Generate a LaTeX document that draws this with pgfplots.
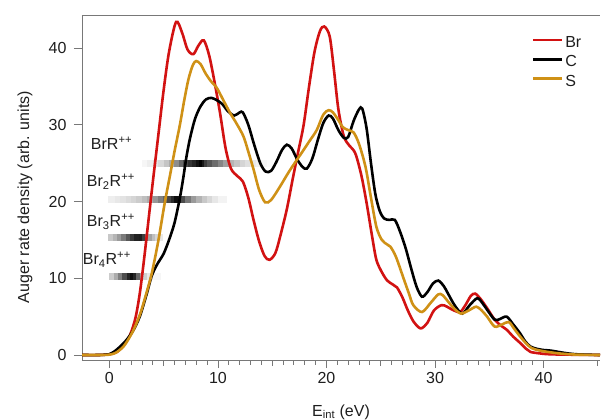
\documentclass[border=0pt]{standalone}
\usepackage{fontspec}
\setmainfont{Liberation Sans}
\usepackage{pgfplots}
\pgfplotsset{compat=1.18}
\definecolor{cBr}{RGB}{210,18,18}
\definecolor{cC}{RGB}{0,0,0}
\definecolor{cS}{RGB}{207,145,22}
\definecolor{axgray}{RGB}{120,120,120}
\definecolor{txt}{RGB}{30,30,30}
\newcommand{\fs}{\fontsize{16}{19}\selectfont}
\begin{document}
\begin{tikzpicture}
\begin{axis}[
  at={(0,0)}, anchor=south west,
  scale only axis, width=518pt, height=345pt,
  xmin=-2.52, xmax=45.2, ymin=-0.65, ymax=44.3,
  axis x line=box, axis y line=left,
  axis line style={-, draw=axgray, line width=0.8pt},
  xtick pos=left, ytick pos=left,
  tick align=outside,
  xtick={0,10,20,30,40}, ytick={0,10,20,30,40},
  minor x tick num=9,
  extra x ticks={5,15,25,35,45}, extra x tick labels={},
  extra x tick style={major tick length=6pt},
  major tick length=8pt, minor tick length=4.5pt,
  every tick/.style={draw=axgray, line width=0.8pt},
  tick label style={font=\fs, text=txt},
  yticklabel style={xshift=-4pt},
  xticklabel style={yshift=-1pt},
  /pgf/number format/assume math mode=true,
  xlabel={E\textsubscript{int} (eV)},
  ylabel={Auger rate density (arb. units)},
  label style={font=\fs, text=txt},
  ylabel style={at={(axis description cs:-0.11,0.472)}, anchor=center},
  colormap={gb}{color(0)=(white) color(1)=(black)},
  legend style={at={(0.862,0.950)}, anchor=north west, draw=none, fill=none,
    font=\fs, text=txt, row sep=2.6pt},
  legend cell align=left,
  legend image code/.code={\draw[#1, line width=2.6pt, line cap=butt] (0pt,0.5ex) -- (29pt,0.5ex);},
]
% gradient bars
\addplot[mesh, point meta=explicit, point meta min=0, point meta max=1, line width=7pt, line cap=butt, shader=flat, forget plot]
 table[x=x, y=y, meta=c] {
x y c
3.0 25.0 0.02
3.5 25.0 0.05
4.0 25.0 0.08
4.5 25.0 0.12
5.0 25.0 0.18
5.5 25.0 0.27
6.0 25.0 0.38
6.4 25.0 0.5
6.8 25.0 0.65
7.2 25.0 0.75
7.6 25.0 0.82
8.0 25.0 0.88
8.3 25.0 0.97
8.5 25.0 1.0
8.7 25.0 0.8
9.0 25.0 0.7
9.5 25.0 0.62
10.0 25.0 0.52
10.5 25.0 0.42
11.0 25.0 0.32
11.5 25.0 0.25
12.0 25.0 0.19
12.5 25.0 0.14
13.0 25.0 0.1
13.5 25.0 0.07
14.0 25.0 0.05
14.5 25.0 0.03
15.1 25.0 0.01
};
\addplot[mesh, point meta=explicit, point meta min=0, point meta max=1, line width=7pt, line cap=butt, shader=flat, forget plot]
 table[x=x, y=y, meta=c] {
x y c
-0.1 20.2 0.05
0.5 20.2 0.08
1.0 20.2 0.1
1.5 20.2 0.12
2.0 20.2 0.15
2.5 20.2 0.18
3.0 20.2 0.22
3.5 20.2 0.28
4.0 20.2 0.35
4.5 20.2 0.45
4.9 20.2 0.55
5.3 20.2 0.66
5.7 20.2 0.78
6.0 20.2 0.88
6.3 20.2 1.0
6.6 20.2 0.8
7.0 20.2 0.6
7.5 20.2 0.45
8.0 20.2 0.34
8.5 20.2 0.25
9.0 20.2 0.18
9.5 20.2 0.12
10.0 20.2 0.07
10.8 20.2 0.02
};
\addplot[mesh, point meta=explicit, point meta min=0, point meta max=1, line width=7pt, line cap=butt, shader=flat, forget plot]
 table[x=x, y=y, meta=c] {
x y c
-0.1 15.3 0.18
0.3 15.3 0.25
0.7 15.3 0.33
1.1 15.3 0.45
1.5 15.3 0.58
1.9 15.3 0.72
2.3 15.3 0.82
2.7 15.3 0.9
3.0 15.3 0.85
3.3 15.3 0.65
3.6 15.3 0.42
3.9 15.3 0.3
4.2 15.3 0.2
4.6 15.3 0.12
4.95 15.3 0.05
};
\addplot[mesh, point meta=explicit, point meta min=0, point meta max=1, line width=7pt, line cap=butt, shader=flat, forget plot]
 table[x=x, y=y, meta=c] {
x y c
0.0 10.2 0.15
0.4 10.2 0.25
0.8 10.2 0.4
1.2 10.2 0.6
1.6 10.2 0.78
1.9 10.2 0.92
2.2 10.2 0.95
2.5 10.2 0.75
2.8 10.2 0.45
3.1 10.2 0.25
3.5 10.2 0.12
4.0 10.2 0.06
4.8 10.2 0.01
};
% curves
\addplot[cBr, line width=2.6pt, smooth] table {
-2.5 0
-1 0
0 0.1
0.7 0.4
1.3 1.2
1.9 2.6
2.4 4.8
2.8 8
3.2 12.5
3.6 17.5
4.0 22.5
4.5 28.5
5.0 34.5
5.5 39.5
6.15 43.4
6.7 42.0
7.2 39.8
7.74 39.2
8.2 40.3
8.7 41.0
9.2 39.0
9.7 35.5
10.2 31.5
10.7 27.0
11.2 24.3
11.8 23.3
12.3 22.6
12.8 20.5
13.3 17.5
13.8 14.8
14.3 12.9
14.75 12.4
15.3 13.3
15.8 15.8
16.35 19.0
16.9 23.0
17.4 26.5
17.9 30.0
18.4 35.0
18.9 39.5
19.4 42.2
19.8 42.8
20.3 41.5
20.7 37.0
21.1 32.0
21.6 28.5
22.1 27.3
22.65 26.3
23.2 23.5
23.7 19.8
24.2 15.5
24.6 12.4
25.1 10.8
25.6 9.7
26.1 9.2
26.5 8.8
27.0 7.5
27.5 5.8
28.0 4.4
28.5 3.6
28.8 3.5
29.3 4.2
29.9 5.8
30.6 6.5
31.1 6.3
31.6 5.9
32.3 5.6
32.8 6.5
33.3 7.7
33.7 8.0
34.2 7.3
34.8 6.1
35.5 4.6
36.1 3.8
36.6 3.3
37.2 2.4
37.9 1.5
38.4 0.8
38.8 0.4
39.7 0.2
40.5 0.1
42 0.05
45.2 0
};
\addlegendentry{Br}
\addplot[cC, line width=2.6pt, smooth] table {
-2.5 0
-1 0
0 0.1
0.4 0.4
1.0 1.1
1.6 2.0
2.2 3.2
2.8 5.0
3.45 8.0
3.9 10.3
4.4 11.8
5.0 13.2
5.5 15.0
6.0 17.2
6.5 20.5
6.8 23.0
7.1 25.8
7.44 28.3
7.9 30.8
8.4 32.4
8.9 33.3
9.4 33.5
9.9 33.2
10.4 32.7
10.9 31.8
11.5 31.2
12.0 31.6
12.3 31.6
12.8 30.0
13.3 27.6
13.9 25.0
14.4 23.9
14.9 24.0
15.4 25.2
15.9 26.7
16.35 27.4
16.8 26.9
17.3 25.5
17.8 24.5
18.2 24.3
18.7 25.6
19.2 28.0
19.7 30.2
20.2 31.2
20.6 30.8
21.1 29.3
21.6 28.3
22.0 28.4
22.5 30.5
23.0 32.0
23.3 32.1
23.7 29.5
24.1 25.0
24.5 21.0
24.9 18.8
25.3 17.8
25.8 17.6
26.3 17.6
26.8 16.0
27.3 13.9
27.8 11.3
28.3 8.9
28.8 7.6
29.3 8.2
29.8 9.3
30.3 9.7
30.8 9.0
31.2 8.0
31.8 6.5
32.5 5.4
33.2 6.5
33.9 7.4
34.4 6.7
34.8 5.9
35.5 4.6
36.0 4.7
36.6 5.0
37.2 4.0
37.85 2.8
38.3 1.8
38.8 1.1
39.4 0.8
40.0 0.65
40.5 0.6
41.0 0.5
41.8 0.3
43 0.1
45.2 0
};
\addlegendentry{C}
\addplot[cS, line width=2.6pt, smooth] table {
-2.5 0
-1 0
0 0.05
0.6 0.3
1.3 1.1
1.9 2.4
2.4 3.8
2.9 5.6
3.4 8.0
3.9 10.6
4.5 14.8
5.1 19.8
5.6 23.5
6.0 26.5
6.5 30.0
6.9 33.2
7.3 36.0
7.7 37.8
8.0 38.3
8.4 37.9
8.9 36.6
9.4 35.6
9.9 34.8
10.5 33.2
11.1 31.6
11.7 30.2
12.35 28.5
12.8 26.5
13.3 24.1
13.8 21.5
14.35 19.9
14.9 20.2
15.7 21.9
16.6 24.0
17.6 26.1
18.4 27.8
19.1 29.3
19.7 31.3
20.2 31.9
20.6 31.6
21.1 30.6
21.5 29.7
22.0 29.3
22.5 29.0
23.0 27.5
23.6 24.5
24.1 20.5
24.6 16.7
25.1 15.0
25.6 14.4
25.9 14.1
26.4 12.8
27.1 10.0
27.6 8.0
28.0 6.5
28.8 5.6
29.6 6.8
30.3 7.9
30.7 7.8
31.3 6.8
31.8 6.0
32.4 5.4
33.1 5.8
33.8 6.3
34.3 5.8
34.8 5.0
35.5 3.7
36.2 4.0
36.8 4.3
37.3 3.4
37.85 2.4
38.4 1.5
38.9 0.9
39.6 0.6
40.4 0.4
41.5 0.2
43 0.05
45.2 0
};
\addlegendentry{S}
\node[anchor=west, font=\fs, text=txt, inner sep=0pt] at (axis cs:-1.71,27.6) {BrR\textsuperscript{++}};
\node[anchor=west, font=\fs, text=txt, inner sep=0pt] at (axis cs:-2.08,22.6) {Br\textsubscript{2}R\textsuperscript{++}};
\node[anchor=west, font=\fs, text=txt, inner sep=0pt] at (axis cs:-2.08,17.4) {Br\textsubscript{3}R\textsuperscript{++}};
\node[anchor=west, font=\fs, text=txt, inner sep=0pt] at (axis cs:-2.45,12.4) {Br\textsubscript{4}R\textsuperscript{++}};
\end{axis}
\pgfresetboundingbox
\path[use as bounding box] (-82pt,-60pt) rectangle (520pt,360pt);
\end{tikzpicture}
\end{document}
